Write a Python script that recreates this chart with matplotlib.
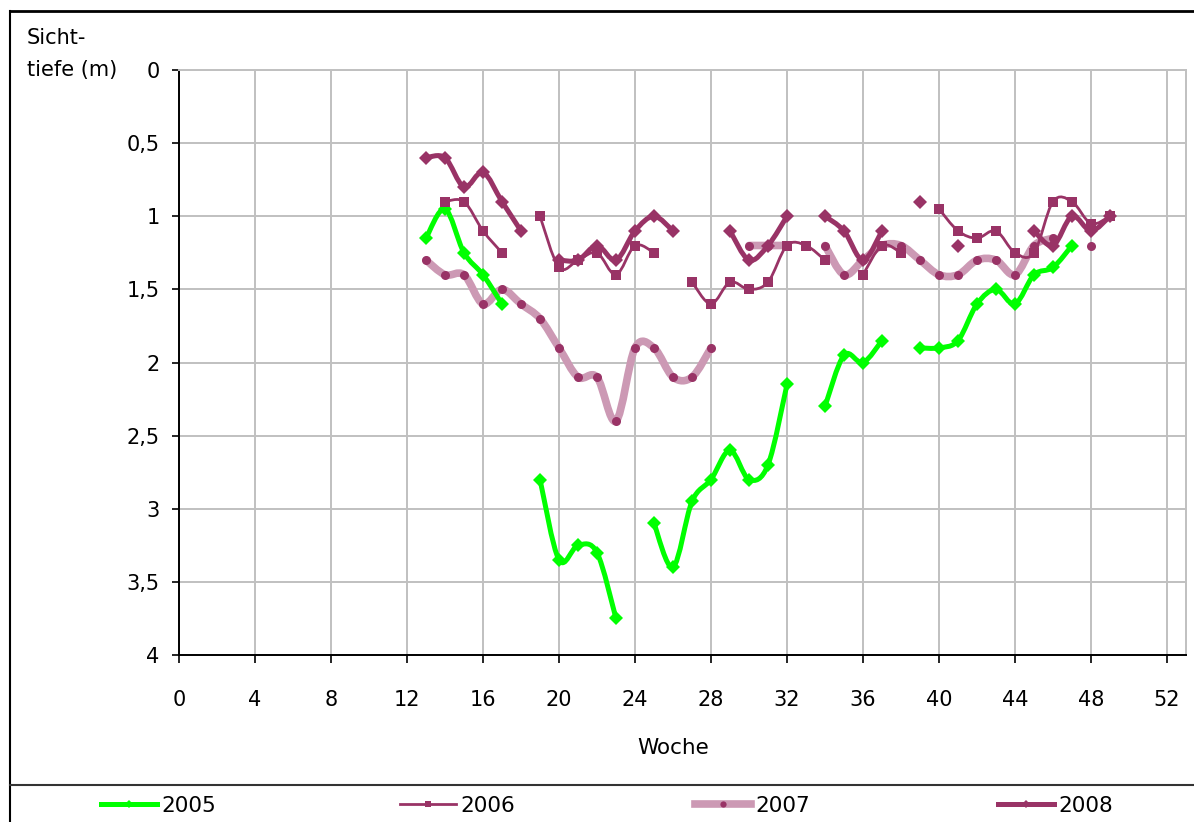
import numpy as np
import matplotlib.pyplot as plt
from matplotlib.path import Path
from matplotlib.patches import PathPatch
from matplotlib.lines import Line2D

plt.rcParams['font.family'] = ['DejaVu Sans']

nan = np.nan
weeks = np.arange(13, 50)

# Sichttiefe (m) per week 13..49, nan = no measurement
depth_2005 = [1.15, 0.95, 1.25, 1.4, 1.6, nan, 2.8, 3.35, 3.25, 3.3, 3.75, nan,
              3.1, 3.4, 2.95, 2.8, 2.6, 2.8, 2.7, 2.15, nan, 2.3, 1.95, 2.0, 1.85,
              nan, 1.9, 1.9, 1.85, 1.6, 1.5, 1.6, 1.4, 1.35, 1.2, nan, nan]
depth_2006 = [nan, 0.9, 0.9, 1.1, 1.25, nan, 1.0, 1.35, 1.3, 1.25, 1.4, 1.2,
              1.25, nan, 1.45, 1.6, 1.45, 1.5, 1.45, 1.2, 1.2, 1.3, nan, 1.4, 1.2,
              1.25, nan, 0.95, 1.1, 1.15, 1.1, 1.25, 1.25, 0.9, 0.9, 1.05, 1.0]
depth_2007 = [1.3, 1.4, 1.4, 1.6, 1.5, 1.6, 1.7, 1.9, 2.1, 2.1, 2.4, 1.9,
              1.9, 2.1, 2.1, 1.9, nan, 1.2, 1.2, 1.2, nan, 1.2, 1.4, 1.3, 1.2,
              1.2, 1.3, 1.4, 1.4, 1.3, 1.3, 1.4, 1.2, 1.15, nan, 1.2, nan]
depth_2008 = [0.6, 0.6, 0.8, 0.7, 0.9, 1.1, nan, 1.3, 1.3, 1.2, 1.3, 1.1,
              1.0, 1.1, nan, nan, 1.1, 1.3, 1.2, 1.0, nan, 1.0, 1.1, 1.3, 1.1,
              nan, 0.9, nan, 1.2, nan, nan, nan, 1.1, 1.2, 1.0, 1.1, 1.0]

x_ticks = np.arange(0, 53, 4)
y_ticks = np.arange(0, 4.01, 0.5)
y_tick_labels = ['0', '0,5', '1', '1,5', '2', '2,5', '3', '3,5', '4']

MAROON = '#993366'
PINK = '#CC99B4'
GREEN = '#00FF00'

series = [
    # label, values, line colour, line width, marker, marker size, marker colour, zorder
    ('2005', depth_2005, GREEN, 3.6, 'D', 7, GREEN, 3),
    ('2006', depth_2006, MAROON, 2.0, 's', 6.5, MAROON, 4),
    ('2007', depth_2007, PINK, 5.5, 'o', 6.5, MAROON, 2),
    ('2008', depth_2008, MAROON, 3.6, 'D', 7, MAROON, 5),
]


def smooth_path(x, y):
    # Excel-like smoothed line: cubic bezier through the points
    pts = np.column_stack([x, y])
    n = len(pts)
    verts = [pts[0]]
    codes = [Path.MOVETO]
    for i in range(n - 1):
        p0 = pts[i - 1] if i > 0 else pts[i]
        p1 = pts[i]
        p2 = pts[i + 1]
        p3 = pts[i + 2] if i + 2 < n else pts[i + 1]
        verts += [p1 + (p2 - p0) / 6, p2 - (p3 - p1) / 6, p2]
        codes += [Path.CURVE4] * 3
    return Path(verts, codes)


def runs(x, y):
    y = np.asarray(y, dtype=float)
    ok = ~np.isnan(y)
    out, start = [], None
    for i in range(len(y) + 1):
        if i < len(y) and ok[i]:
            if start is None:
                start = i
        elif start is not None:
            out.append((x[start:i], y[start:i]))
            start = None
    return out


fig = plt.figure(figsize=(11.94, 8.22), dpi=100)
ax = fig.add_axes([179 / 1194, 1 - 655 / 822, (1186 - 179) / 1194, (655 - 70) / 822])

for label, vals, col, lw, mk, ms, mcol, z in series:
    for xs, ys in runs(weeks, vals):
        if len(xs) > 1:
            ax.add_patch(PathPatch(smooth_path(xs, ys), facecolor='none', edgecolor=col,
                                   lw=lw, capstyle='round', joinstyle='round', zorder=z))
        ax.plot(xs, ys, linestyle='none', marker=mk, markersize=ms, color=mcol,
                markeredgewidth=0, zorder=z + 0.5)

ax.set_xlim(0, 53)
ax.set_ylim(4, 0)
ax.set_xticks(x_ticks)
ax.set_yticks(y_ticks, y_tick_labels)
ax.grid(True, color='#C0C0C0', linewidth=1.4)
ax.set_axisbelow(True)
for side in ['top', 'right']:
    ax.spines[side].set_color('#C0C0C0')
    ax.spines[side].set_linewidth(1.4)
for side in ['left', 'bottom']:
    ax.spines[side].set_color('black')
    ax.spines[side].set_linewidth(1.4)
ax.tick_params(axis='y', direction='out', length=5, width=1.2, pad=9, labelsize=15)
ax.tick_params(axis='x', direction='out', length=6, width=1.2, pad=19, labelsize=15)

fig.text(27 / 1194, 1 - 38 / 822, 'Sicht-', fontsize=15, ha='left', va='center')
fig.text(27 / 1194, 1 - 70 / 822, 'tiefe (m)', fontsize=15, ha='left', va='center')
fig.text(673 / 1194, 1 - 748 / 822, 'Woche', fontsize=15.5, ha='center', va='center')

# outer chart frame and legend divider
fig.add_artist(Line2D([10 / 1194, 1], [1 - 11 / 822, 1 - 11 / 822], color='black', lw=2))
fig.add_artist(Line2D([10 / 1194, 10 / 1194], [0, 1 - 11 / 822], color='black', lw=1.5))
fig.add_artist(Line2D([10 / 1194, 1], [1 - 785 / 822, 1 - 785 / 822], color='#333333', lw=1.5))

legend_x = [101, 400, 695, 998]
for (label, vals, col, lw, mk, ms, mcol, z), lx in zip(series, legend_x):
    h = Line2D([], [], color=col, lw=lw, marker=mk, markersize=4.5, markerfacecolor=mcol,
               markeredgewidth=0)
    fig.legend([h], [label], loc='center left', bbox_to_anchor=(lx / 1194, 16 / 822),
               frameon=False, fontsize=15.5, handlelength=2.6, handletextpad=0.2,
               borderpad=0, borderaxespad=0)

fig.savefig('out.png', dpi=100)
